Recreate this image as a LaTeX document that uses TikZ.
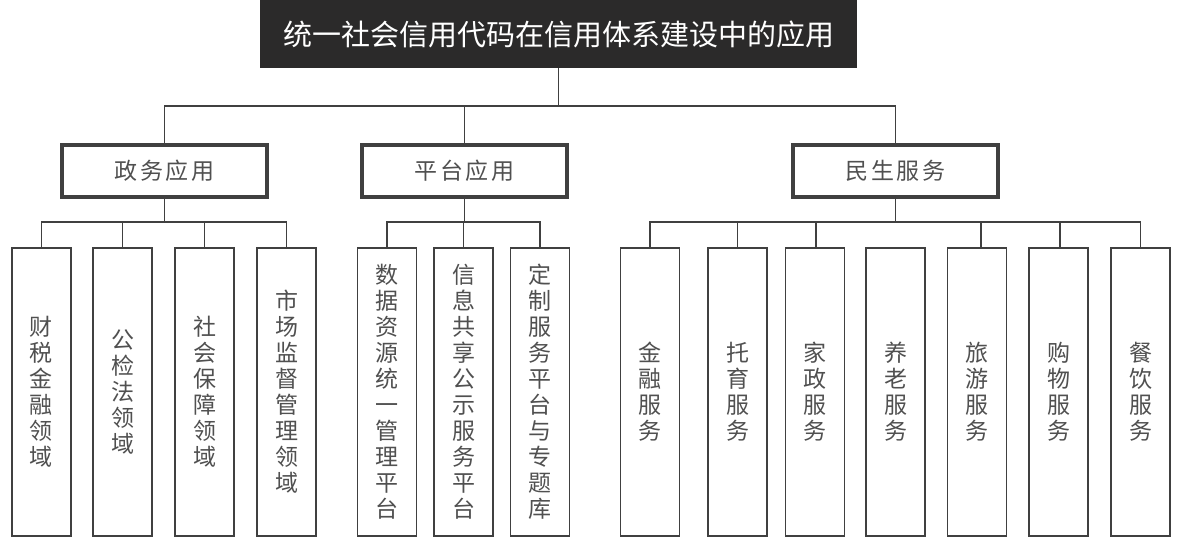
\documentclass[tikz,border=0pt]{standalone}
\usepackage{fontspec}
\setmainfont{Noto Sans CJK SC}
\definecolor{tdark}{HTML}{2B2A2A}
\definecolor{lcol}{HTML}{404040}
\definecolor{tcol}{HTML}{505050}
\newcommand{\cs}{\hspace{2.5pt}}
\begin{document}
\begin{tikzpicture}[x=1pt,y=-1pt,line join=miter]
\tikzset{
 titlebox/.style={fill=tdark,text=white,minimum width=597pt,minimum height=68pt,inner sep=0pt,font=\fontsize{29}{32}\selectfont},
 catbox/.style={draw=lcol,line width=3.2pt,fill=white,minimum width=205pt,minimum height=52pt,inner sep=0pt,font=\fontsize{23}{26}\selectfont,text=tcol},
 leafbox/.style={draw=lcol,line width=1.8pt,fill=white,minimum width=59pt,minimum height=288pt,inner sep=0pt,align=center,font=\fontsize{23}{26}\selectfont,text=tcol},
 link/.style={draw=lcol,line width=1.8pt}
}
\fill[white] (0,0) rectangle (1179,543);
\useasboundingbox (0,0) rectangle (1179,543);

% title
\node[titlebox] (title) at (558.5,34) {统一社会信用代码在信用体系建设中的应用};

% categories
\node[catbox] (c1) at (164.5,171) {政\cs 务\cs 应\cs 用};
\node[catbox] (c2) at (464.5,171) {平\cs 台\cs 应\cs 用};
\node[catbox] (c3) at (895.5,171) {民\cs 生\cs 服\cs 务};

% leaves: group 1
\node[leafbox] (a1) at (41.5,392) {财\\税\\金\\融\\领\\域};
\node[leafbox] (a2) at (122.5,392) {公\\检\\法\\领\\域};
\node[leafbox] (a3) at (204.5,392) {社\\会\\保\\障\\领\\域};
\node[leafbox] (a4) at (286.5,392) {市\\场\\监\\督\\管\\理\\领\\域};
% group 2
\node[leafbox] (b1) at (387,392) {数\\据\\资\\源\\统\\一\\管\\理\\平\\台};
\node[leafbox] (b2) at (463.5,392) {信\\息\\共\\享\\公\\示\\服\\务\\平\\台};
\node[leafbox] (b3) at (540,392) {定\\制\\服\\务\\平\\台\\与\\专\\题\\库};
% group 3
\node[leafbox] (d1) at (650,392) {金\\融\\服\\务};
\node[leafbox] (d2) at (737.5,392) {托\\育\\服\\务};
\node[leafbox] (d3) at (815,392) {家\\政\\服\\务};
\node[leafbox] (d4) at (895.5,392) {养\\老\\服\\务};
\node[leafbox] (d5) at (977,392) {旅\\游\\服\\务};
\node[leafbox] (d6) at (1058.5,392) {购\\物\\服\\务};
\node[leafbox] (d7) at (1140.5,392) {餐\\饮\\服\\务};

% bus coordinates
\coordinate (top) at (558.5,106);
\coordinate (g1) at (164.5,222);
\coordinate (g2) at (464.5,222);
\coordinate (g3) at (895.5,222);

% connectors level 1
\draw[link] (title.south) -- (top);
\draw[link] (c1.north) |- (top) -| (c3.north);
\draw[link] (c2.north) -- (c2.north |- top);

% group 1
\draw[link] (c1.south) -- (g1);
\draw[link] (a1.north) |- (g1) -| (a4.north);
\draw[link] (a2.north) -- (a2.north |- g1);
\draw[link] (a3.north) -- (a3.north |- g1);

% group 2
\draw[link] (c2.south) -- (g2);
\draw[link] (b1.north) |- (g2) -| (b3.north);
\draw[link] (b2.north) -- (b2.north |- g2);

% group 3
\draw[link] (c3.south) -- (g3);
\draw[link] (d1.north) |- (g3) -| (d7.north);
\draw[link] (d2.north) -- (d2.north |- g3);
\draw[link] ([xshift=1pt]d3.north) -- ([xshift=1pt]d3.north |- g3);
\draw[link] ([xshift=4pt]d5.north) -- ([xshift=4pt]d5.north |- g3);
\draw[link] ([xshift=1.5pt]d6.north) -- ([xshift=1.5pt]d6.north |- g3);
\end{tikzpicture}
\end{document}
